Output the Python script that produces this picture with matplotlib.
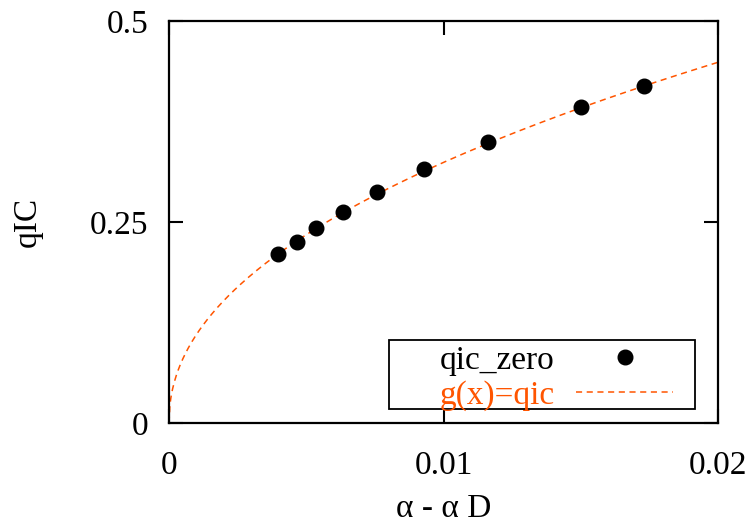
import numpy as np
import matplotlib
matplotlib.use("Agg")
import matplotlib.pyplot as plt
from matplotlib.patches import Rectangle

# measured distance from the transition and the corresponding qIC values
alpha_shift = [0.00397, 0.00466, 0.00536, 0.00634, 0.00758, 0.00929, 0.01162, 0.01501, 0.01730]
qic_zero = [0.210, 0.225, 0.2425, 0.2624, 0.287, 0.316, 0.349, 0.393, 0.419]

# power-law fit g(x) = a * x**b
fit_a = 2.81
fit_b = 0.469

x_ticks = [0, 0.01, 0.02]
x_tick_labels = ["0", "0.01", "0.02"]
y_ticks = [0, 0.25, 0.5]
y_tick_labels = ["0", "0.25", "0.5"]

fit_color = "#ff5500"
fs = 24

plt.rcParams["font.family"] = ["Liberation Serif", "DejaVu Serif"]

fig = plt.figure(figsize=(7.49, 5.28), dpi=100)
ax = fig.add_axes([169 / 749, 1 - 423 / 528, 549 / 749, 402 / 528])

xs = np.linspace(0, 0.02, 600)
ax.plot(xs, fit_a * xs ** fit_b, color=fit_color, lw=1.1,
        dashes=(4, 3), label="g(x)=qic", zorder=2)
ax.plot(alpha_shift, qic_zero, "o", color="black", ms=10.5, ls="none",
        label="qic_zero", zorder=3)

ax.set_xlim(0, 0.02)
ax.set_ylim(0, 0.5)
ax.set_xticks(x_ticks)
ax.set_xticklabels(x_tick_labels)
ax.set_yticks(y_ticks)
ax.set_yticklabels(y_tick_labels)
ax.tick_params(direction="in", length=10, width=1.5, labelsize=fs,
               top=True, right=True)
ax.tick_params(axis="y", pad=15)
ax.tick_params(axis="x", pad=20)
for sp in ax.spines.values():
    sp.set_linewidth(1.6)

ax.set_xlabel("α - α D", fontsize=fs, labelpad=9)
ax.set_ylabel("qIC", fontsize=fs, labelpad=34)

handles, labels = ax.get_legend_handles_labels()
order = [1, 0]
leg = ax.legend([handles[i] for i in order], [labels[i] for i in order],
                loc="center right", bbox_to_anchor=(0.936, 0.111),
                markerfirst=False, frameon=False, fontsize=fs,
                handlelength=2.9, handletextpad=0.65, labelspacing=0.13,
                borderpad=0.3, borderaxespad=0.0)
leg.get_texts()[1].set_color(fit_color)

ax.add_patch(Rectangle((0.401, 0.035), 0.557, 0.171, transform=ax.transAxes,
                       fill=False, lw=1.3, edgecolor="black", zorder=4))

fig.savefig("out.png", dpi=100)
